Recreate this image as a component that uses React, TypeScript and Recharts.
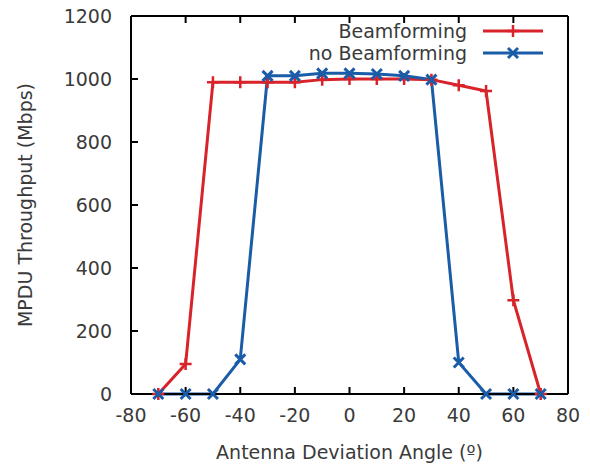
import React from 'react';
import { LineChart, Line, XAxis, YAxis, Legend } from 'recharts';

const angles = [-70, -60, -50, -40, -30, -20, -10, 0, 10, 20, 30, 40, 50, 60, 70];
const beamforming = [0, 95, 990, 990, 990, 990, 998, 1000, 1000, 1000, 998, 980, 962, 298, 0];
const noBeamforming = [0, 0, 0, 110, 1010, 1010, 1018, 1018, 1016, 1010, 998, 100, 0, 0, 0];
const xTicks = [-80, -60, -40, -20, 0, 20, 40, 60, 80];
const yTicks = [0, 200, 400, 600, 800, 1000, 1200];

const RED = '#d8232a';
const BLUE = '#1b5ca8';
const FONT = '"DejaVu Sans", sans-serif';
const TEXT = '#3a3a3a';
const FS = 19;

const data = angles.map((a, i) => ({ angle: a, bf: beamforming[i], nobf: noBeamforming[i] }));

const PlusDot = (p: any) => {
  const { cx, cy } = p;
  if (cx == null || cy == null) return <g />;
  return <path d={`M${cx - 6},${cy}h12M${cx},${cy - 6}v12`} stroke={RED} strokeWidth={2.5} fill="none" />;
};

const CrossDot = (p: any) => {
  const { cx, cy } = p;
  if (cx == null || cy == null) return <g />;
  return <path d={`M${cx - 5},${cy - 5}L${cx + 5},${cy + 5}M${cx - 5},${cy + 5}L${cx + 5},${cy - 5}`} stroke={BLUE} strokeWidth={3} fill="none" />;
};

const LegendBox = () => (
  <svg width={590} height={70} style={{ display: 'block' }}>
    {[
      { name: 'Beamforming', color: RED, y: 31, Dot: PlusDot },
      { name: 'no Beamforming', color: BLUE, y: 53, Dot: CrossDot },
    ].map(({ name, color, y, Dot }) => (
      <g key={name}>
        <text x={467} y={y} dy="0.35em" textAnchor="end" fontFamily={FONT} fontSize={FS} fill={TEXT}>{name}</text>
        <line x1={483} x2={543} y1={y} y2={y} stroke={color} strokeWidth={3} />
        <Dot cx={513} cy={y} />
      </g>
    ))}
  </svg>
);

const tickStyle = { fontFamily: FONT, fontSize: FS, fill: TEXT };
const axisLine = { stroke: '#000', strokeWidth: 2 };
const tickLine = { stroke: '#000', strokeWidth: 2 };
const noLabel = () => <g />;

export default function App() {
  return (
    <div style={{ position: 'absolute', left: 0, top: 0, width: 590, height: 466, background: '#fff' }}>
      <LineChart width={590} height={466} data={data} margin={{ top: 15, right: 21, left: 0, bottom: 0 }}>
        <XAxis
          dataKey="angle"
          type="number"
          domain={[-80, 80]}
          ticks={xTicks}
          height={72}
          tickSize={-7}
          tickMargin={22}
          axisLine={axisLine}
          tickLine={tickLine}
          tick={tickStyle}
          label={({ viewBox }: any) => (
            <text x={viewBox.x + viewBox.width / 2} y={459} textAnchor="middle" fontFamily={FONT} fontSize={FS} fill={TEXT}>
              Antenna Deviation Angle (º)
            </text>
          )}
        />
        <XAxis
          xAxisId="top"
          orientation="top"
          dataKey="angle"
          type="number"
          domain={[-80, 80]}
          ticks={xTicks}
          height={1}
          tickSize={-7}
          tickMargin={0}
          axisLine={axisLine}
          tickLine={tickLine}
          tick={noLabel}
        />
        <YAxis
          type="number"
          domain={[0, 1200]}
          ticks={yTicks}
          width={131}
          tickSize={-7}
          tickMargin={26}
          axisLine={axisLine}
          tickLine={tickLine}
          tick={tickStyle}
          label={({ viewBox }: any) => {
            const cy = viewBox.y + viewBox.height / 2;
            return (
              <text x={25} y={cy} transform={`rotate(-90 25 ${cy})`} dy="0.35em" textAnchor="middle" fontFamily={FONT} fontSize={FS} fill={TEXT}>
                MPDU Throughput (Mbps)
              </text>
            );
          }}
        />
        <YAxis
          yAxisId="right"
          orientation="right"
          type="number"
          domain={[0, 1200]}
          ticks={yTicks}
          width={1}
          tickSize={-7}
          tickMargin={0}
          axisLine={axisLine}
          tickLine={tickLine}
          tick={noLabel}
        />
        <Legend layout="vertical" align="center" verticalAlign="middle" wrapperStyle={{ left: 0, top: 0, width: 590 }} content={() => <LegendBox />} />
        <Line dataKey="bf" name="Beamforming" stroke={RED} strokeWidth={3} dot={<PlusDot />} isAnimationActive={false} />
        <Line dataKey="nobf" name="no Beamforming" stroke={BLUE} strokeWidth={3} dot={<CrossDot />} isAnimationActive={false} />
      </LineChart>
    </div>
  );
}
